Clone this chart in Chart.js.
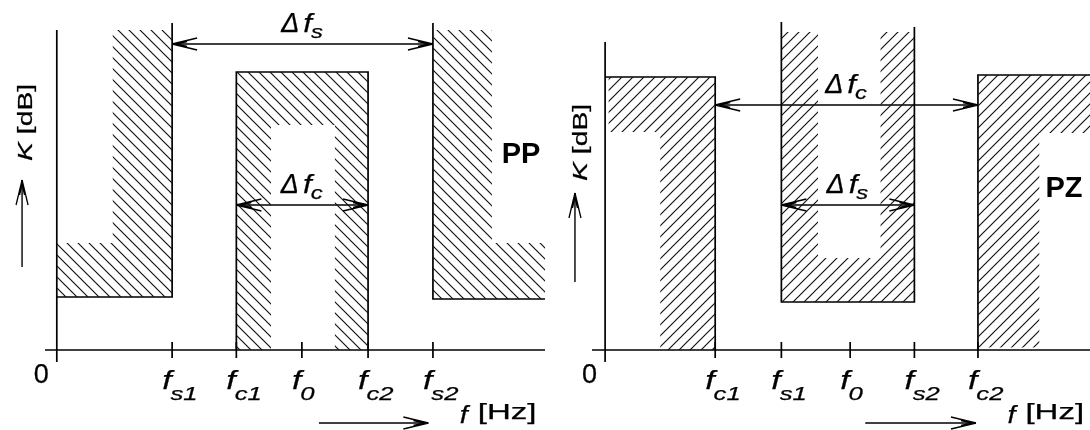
<!DOCTYPE html>
<html>
<head>
<meta charset="utf-8">
<script src="https://cdn.jsdelivr.net/npm/chart.js@4.4.1/dist/chart.umd.min.js"></script>
<style>
  html, body { margin: 0; padding: 0; background: #fff; }
  #wrap { position: relative; width: 1090px; height: 430px; }
  canvas { position: absolute; top: 0; }
</style>
</head>
<body>
<div id="wrap">
  <canvas id="pp" width="545" height="430" style="left:0"></canvas>
  <canvas id="pz" width="545" height="430" style="left:545px"></canvas>
</div>
<script>
// ---------- PP : band-pass tolerance scheme ----------
const ppTickSubs = ["s1", "c1", "0", "c2", "s2"];
const ppTickPos = [1.76, 2.74, 3.74, 4.75, 5.74];
const ppStop = [10.6, 10.2];        // K level below fs1 / above fs2
const ppPass = 55.6;                // top of the pass box
const ppTop = 65.4;                 // end of the fs1 / fs2 edges
const ppAxisTop = 64;
const ppHatch = [
    [0, 1.76, 10.6, 21.4], [0.85, 1.76, 21.4, 64],
    [2.74, 4.75, 45, 55.6], [2.74, 3.27, 0, 45], [4.24, 4.75, 0, 45],
    [5.74, 7.45, 10.2, 21.4], [5.74, 6.64, 21.4, 64]
];
const ppSpans = [["s", 1.76, 5.74, 61.2], ["c", 2.74, 4.75, 29]];
const ppRange = [-0.18, 7.45];

// ---------- PZ : band-stop tolerance scheme ----------
const pzTickSubs = ["c1", "s1", "0", "s2", "c2"];
const pzTickPos = [1.68, 2.69, 3.74, 4.72, 5.69];
const pzPass = [54.6, 55];          // pass level below fc1 / above fc2
const pzStop = 9.6;                 // bottom of the stop box
const pzTop = [65.6, 64.6];         // end of the fs1 / fs2 edges
const pzAxisTop = 61.6;
const pzHatch = [
    [0.05, 1.68, 43.6, 54.6], [0.84, 1.68, 0, 43.6],
    [2.69, 4.72, 9.6, 18.4], [2.69, 3.25, 18.4, 63.6], [4.2, 4.72, 18.4, 63.6],
    [5.69, 7.4, 43.4, 55], [5.69, 6.63, 0.5, 43.4]
];
const pzSpans = [["c", 1.68, 5.69, 49], ["s", 2.69, 4.72, 29]];
const pzRange = [-0.2, 7.4];

const yRange = [-3, 67];

// decorations (in chart units)
const ppDecor = { name: "PP", nameAt: [6.79, 37.5], kAt: [-0.38, 37.8], kArrow: [-0.53, 16.6, 34], fArrow: [4.0, 5.67, -14.6], fAt: [6.15, -14.6] };
const pzDecor = { name: "PZ", nameAt: [6.72, 30.6], kAt: [-0.28, 33.8], kArrow: [-0.46, 13.6, 31.4], fArrow: [3.97, 5.66, -14.6], fAt: [6.14, -14.6] };

const FONT = '"Liberation Sans", Arial, sans-serif';


function makeHatch(dir) {
    const s = 11;
    const c = document.createElement("canvas");
    c.width = s; c.height = s;
    const g = c.getContext("2d");
    g.strokeStyle = "#111";
    g.lineWidth = 1.15;
    g.beginPath();
    if (dir === "back") {
        g.moveTo(0, 0); g.lineTo(s, s);
        g.moveTo(-1, s - 1); g.lineTo(1, s + 1);
        g.moveTo(s - 1, -1); g.lineTo(s + 1, 1);
    } else {
        g.moveTo(0, s); g.lineTo(s, 0);
        g.moveTo(-1, 1); g.lineTo(1, -1);
        g.moveTo(s - 1, s + 1); g.lineTo(s + 1, s - 1);
    }
    g.stroke();
    return g.createPattern(c, "repeat");
}


function seg(points, extra) {
    return Object.assign({
        data: points.map(p => ({ x: p[0], y: p[1] })),
        borderColor: "#000",
        borderWidth: 1.7,
        pointRadius: 0,
        fill: false
    }, extra || {});
}

function hatchSets(rects, pattern) {
    return rects.map(r => ({
        data: [{ x: r[0], y: r[3] }, { x: r[1], y: r[3] }],
        borderColor: "rgba(0,0,0,0)",
        borderWidth: 0,
        pointRadius: 0,
        fill: { value: r[2] },
        backgroundColor: pattern
    }));
}

function tickSets(pos) {
    return pos.map(p => seg([[p, -1.6], [p, 1.6]]));
}

function spanSets(spans) {
    return spans.map(s => seg([[s[1], s[3]], [s[2], s[3]]], { arrow: true, borderWidth: 1.4 }));
}


function textWidth(ctx, str, font, sx) {
    ctx.save();
    ctx.font = font;
    const w = ctx.measureText(str).width * sx;
    ctx.restore();
    return w;
}

// filled text, stretched sideways by sx
function stretchText(ctx, str, x, y, font, sx) {
    ctx.save();
    ctx.font = font;
    ctx.translate(x, y);
    ctx.scale(sx, 1);
    ctx.lineWidth = 0.25;
    ctx.fillText(str, 0, 0);
    ctx.strokeText(str, 0, 0);
    const w = ctx.measureText(str).width * sx;
    ctx.restore();
    return w;
}

// tip at (tx,ty), (ux,uy) points from the tip back along the shaft
function arrowHead(ctx, tx, ty, ux, uy) {
    const nx = -uy, ny = ux;
    ctx.save();
    ctx.lineWidth = 1.3;
    ctx.beginPath();
    [1, -1].forEach(s => {
        ctx.moveTo(tx, ty);
        ctx.lineTo(tx + ux * 25 + nx * 6 * s, ty + uy * 25 + ny * 6 * s);
        ctx.moveTo(tx + ux * 4, ty + uy * 4);
        ctx.lineTo(tx + ux * 15 + nx * 2.5 * s, ty + uy * 15 + ny * 2.5 * s);
    });
    ctx.stroke();
    ctx.restore();
}


function decorPlugin(spans, tickPos, tickSubs, d) {
    return {
        id: "decor",
        afterDraw(chart) {
            const ctx = chart.ctx;
            const X = v => chart.scales.x.getPixelForValue(v);
            const Y = v => chart.scales.y.getPixelForValue(v);

            ctx.save();
            ctx.fillStyle = "#000";
            ctx.strokeStyle = "#000";
            ctx.lineWidth = 1.4;
            ctx.textBaseline = "alphabetic";

            // arrow heads on the delta-f spans
            chart.data.datasets.forEach((ds, i) => {
                if (!ds.arrow) return;
                const pts = chart.getDatasetMeta(i).data;
                const a = pts[0], b = pts[pts.length - 1];
                arrowHead(ctx, a.x, a.y, 1, 0);
                arrowHead(ctx, b.x, b.y, -1, 0);
            });

            // delta-f labels
            spans.forEach(s => {
                const fD = "italic 27px " + FONT, fF = "italic 25px " + FONT, fS = "italic 19px " + FONT;
                const wD = textWidth(ctx, "\u0394", fD, 1);
                const wF = textWidth(ctx, "f", fF, 1.25);
                const wS = textWidth(ctx, s[0], fS, 1.25);
                const base = Y(s[3]) - 12;
                let x0 = (X(s[1]) + X(s[2])) / 2 - (wD + 4 + wF + wS) / 2;
                stretchText(ctx, "\u0394", x0, base, fD, 1);
                x0 += wD + 4;
                stretchText(ctx, "f", x0, base, fF, 1.25);
                x0 += wF - 1;
                stretchText(ctx, s[0], x0, base + 6, fS, 1.25);
            });

            // tick labels
            tickPos.forEach((p, i) => {
                const px = X(p) - 10, base = Y(0) + 39;
                const w = stretchText(ctx, "f", px, base, "italic 26px " + FONT, 1.3);
                stretchText(ctx, tickSubs[i], px + w - 1, base + 11, "italic 19px " + FONT, 1.35);
            });

            // origin
            stretchText(ctx, "0", X(0) - 23, Y(0) + 33, "27px " + FONT, 1);

            // filter name
            ctx.font = "bold 29px " + FONT;
            ctx.fillText(d.name, X(d.nameAt[0]), Y(d.nameAt[1]));

            // f [Hz] with arrow
            const fy = Y(d.fArrow[2]);
            ctx.beginPath();
            ctx.moveTo(X(d.fArrow[0]), fy);
            ctx.lineTo(X(d.fArrow[1]), fy);
            ctx.stroke();
            arrowHead(ctx, X(d.fArrow[1]), fy, -1, 0);
            const wf = stretchText(ctx, "f", X(d.fAt[0]), Y(d.fAt[1]), "italic 23px " + FONT, 1.25);
            stretchText(ctx, "[Hz]", X(d.fAt[0]) + wf + 10, Y(d.fAt[1]) - 4, "22px " + FONT, 1.5);

            // K [dB] with arrow
            const kx = X(d.kArrow[0]);
            ctx.beginPath();
            ctx.moveTo(kx, Y(d.kArrow[1]));
            ctx.lineTo(kx, Y(d.kArrow[2]));
            ctx.stroke();
            arrowHead(ctx, kx, Y(d.kArrow[2]), 0, 1);

            ctx.save();
            ctx.translate(X(d.kAt[0]), Y(d.kAt[1]));
            ctx.rotate(-Math.PI / 2);
            const wk = stretchText(ctx, "K", 0, 0, "italic 21px " + FONT, 1.35);
            stretchText(ctx, " [dB]", wk, 0, "21px " + FONT, 1.35);
            ctx.restore();

            ctx.restore();
        }
    };
}


function makeChart(id, datasets, range, padLeft, plugin) {
    return new Chart(document.getElementById(id), {
        type: "line",
        data: { datasets: datasets },
        options: {
            responsive: false,
            animation: false,
            devicePixelRatio: 1,
            layout: { padding: { left: padLeft, right: 0, top: 15, bottom: 65 } },
            plugins: { legend: { display: false }, tooltip: { enabled: false } },
            elements: { line: { tension: 0 }, point: { radius: 0 } },
            scales: {
                x: { type: "linear", min: range[0], max: range[1], display: false },
                y: { type: "linear", min: yRange[0], max: yRange[1], display: false }
            }
        },
        plugins: [plugin]
    });
}


window.onload = function () {

    const back = makeHatch("back");
    const fwd = makeHatch("fwd");

    const ppSets = [].concat(
        hatchSets(ppHatch, back),
        [
            seg([[0, -2.4], [0, ppAxisTop]]),
            seg([[ppRange[0], 0], [ppRange[1], 0]]),
            seg([[0, ppStop[0]], [ppTickPos[0], ppStop[0]], [ppTickPos[0], ppTop]]),
            seg([[ppRange[1], ppStop[1]], [ppTickPos[4], ppStop[1]], [ppTickPos[4], ppTop]]),
            seg([[ppTickPos[1], 0], [ppTickPos[1], ppPass], [ppTickPos[3], ppPass], [ppTickPos[3], 0]])
        ],
        tickSets(ppTickPos),
        spanSets(ppSpans)
    );

    const pzSets = [].concat(
        hatchSets(pzHatch, fwd),
        [
            seg([[0, -2.4], [0, pzAxisTop]]),
            seg([[pzRange[0], 0], [pzRange[1], 0]]),
            seg([[0, pzPass[0]], [pzTickPos[0], pzPass[0]], [pzTickPos[0], 0]]),
            seg([[pzTickPos[1], pzTop[0]], [pzTickPos[1], pzStop], [pzTickPos[3], pzStop], [pzTickPos[3], pzTop[1]]]),
            seg([[pzRange[1], pzPass[1]], [pzTickPos[4], pzPass[1]], [pzTickPos[4], 0]])
        ],
        tickSets(pzTickPos),
        spanSets(pzSpans)
    );

    makeChart("pp", ppSets, ppRange, 45, decorPlugin(ppSpans, ppTickPos, ppTickSubs, ppDecor));
    makeChart("pz", pzSets, pzRange, 47, decorPlugin(pzSpans, pzTickPos, pzTickSubs, pzDecor));

};
</script>
</body>
</html>
